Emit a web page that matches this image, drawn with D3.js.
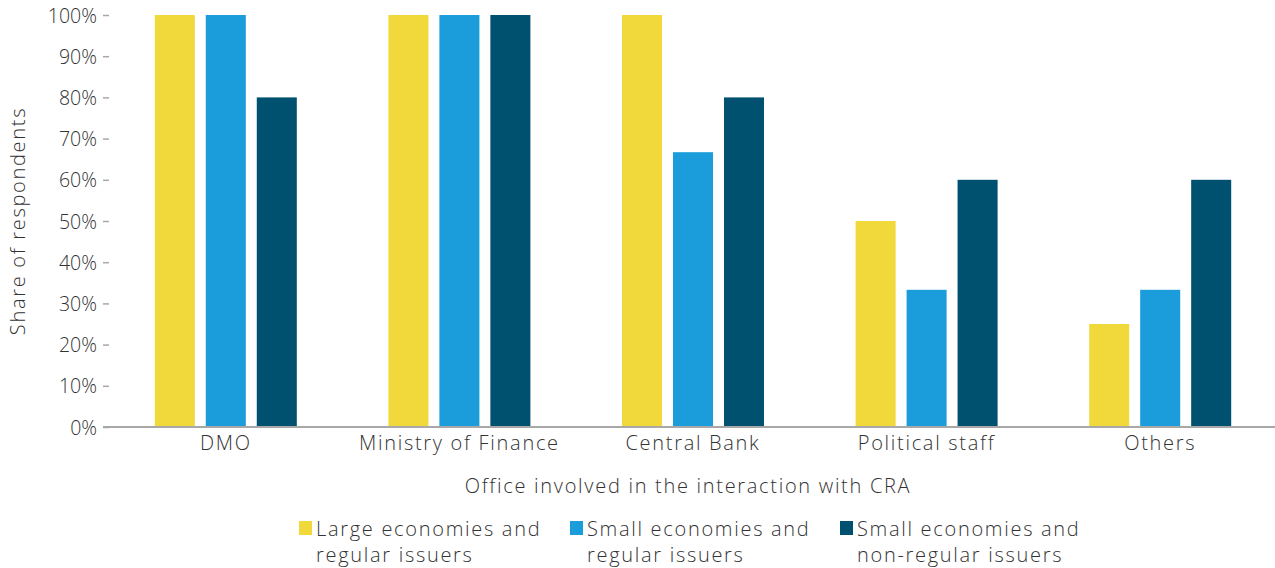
<!DOCTYPE html>
<html>
<head>
<meta charset="utf-8">
<script src="https://cdn.jsdelivr.net/npm/d3@7"></script>
<style>
  body { margin: 0; background: #fff; }
  svg text { font-family: "Open Sans", "Lato", sans-serif; font-weight: 300; fill: #333; }
  .axis path, .axis line { stroke: #a8a8a8; }
  .lbl { font-size: 20px; letter-spacing: 1.7px; }
</style>
</head>
<body>
<div id="chart"></div>
<script>
// Data
var categories = ["DMO", "Ministry of Finance", "Central Bank", "Political staff", "Others"];
var seriesNames = ["Large economies and regular issuers",
                   "Small economies and regular issuers",
                   "Small economies and non-regular issuers"];
var largeRegular = [1.00, 1.00, 1.00, 0.50, 0.25];
var smallRegular = [1.00, 1.00, 0.667, 0.333, 0.333];
var smallNonRegular = [0.80, 1.00, 0.80, 0.60, 0.60];
var legendLines = [["Large economies and", "regular issuers"],
                   ["Small economies and", "regular issuers"],
                   ["Small economies and", "non-regular issuers"]];
var colors = ["#F2D93B", "#1A9DDA", "#00506F"];

var series = [largeRegular, smallRegular, smallNonRegular];

var W = 1275, H = 568;
var margin = {top: 15, right: 0, bottom: 141, left: 109};

var svg = d3.select("#chart").append("svg")
    .attr("width", W)
    .attr("height", H);

// Scales
var x0 = d3.scaleBand()
    .domain(categories)
    .range([margin.left, W + 2])
    .paddingInner(0);

var groupWidth = 142;
var x1 = d3.scaleBand()
    .domain(d3.range(series.length))
    .range([0, groupWidth])
    .paddingInner(0.215);

var y = d3.scaleLinear()
    .domain([0, 1])
    .range([H - margin.bottom, margin.top]);

// Bars
var groups = svg.append("g").selectAll("g")
  .data(categories)
  .enter().append("g")
    .attr("transform", function(d) {
      return "translate(" + (x0(d) + (x0.bandwidth() - groupWidth) / 2) + ",0)";
    });

groups.selectAll("rect")
  .data(function(d, i) { return series.map(function(s, j) { return {k: j, v: s[i]}; }); })
  .enter().append("rect")
    .attr("x", function(d) { return x1(d.k); })
    .attr("width", x1.bandwidth())
    .attr("y", function(d) { return y(d.v); })
    .attr("height", function(d) { return y(0) - y(d.v); })
    .attr("fill", function(d) { return colors[d.k]; });

// Y axis (ticks only)
var yAxis = svg.append("g")
    .attr("class", "axis")
    .attr("transform", "translate(" + margin.left + ",0)")
    .call(d3.axisLeft(y).ticks(10).tickFormat(d3.format(".0%")).tickSize(6).tickPadding(6));
yAxis.select(".domain").remove();
yAxis.selectAll("text").style("font-size", "19.5px").attr("dy", "0.36em");
yAxis.selectAll("line").attr("stroke-width", 1.5);

// X axis baseline
svg.append("line")
    .attr("x1", margin.left - 6)
    .attr("x2", W)
    .attr("y1", y(0))
    .attr("y2", y(0))
    .attr("stroke", "#a8a8a8")
    .attr("stroke-width", 2);

// Category labels
svg.append("g").selectAll("text")
  .data(categories)
  .enter().append("text")
    .attr("class", "lbl")
    .attr("x", function(d) { return x0(d) + x0.bandwidth() / 2; })
    .attr("y", y(0) + 23)
    .attr("text-anchor", "middle")
    .text(function(d) { return d; });

// Axis titles
svg.append("text")
    .attr("class", "lbl")
    .attr("x", 688)
    .attr("y", 493)
    .attr("text-anchor", "middle")
    .text("Office involved in the interaction with CRA");

svg.append("text")
    .attr("class", "lbl")
    .attr("text-anchor", "middle")
    .attr("transform", "translate(25," + ((y(0) + y(1)) / 2) + ")rotate(-90)")
    .text("Share of respondents");

// Legend
var legendX = [299, 570, 840];
var legend = svg.append("g").selectAll("g")
  .data(seriesNames)
  .enter().append("g")
    .attr("transform", function(d, i) { return "translate(" + legendX[i] + ",521)"; });

legend.append("rect")
    .attr("width", 13)
    .attr("height", 14)
    .attr("fill", function(d, i) { return colors[i]; });

legend.each(function(d, i) {
  var t = d3.select(this).append("text")
      .attr("class", "lbl")
      .attr("x", 17)
      .attr("y", 15);
  legendLines[i].forEach(function(line, k) {
    t.append("tspan")
      .attr("x", 17)
      .attr("dy", k === 0 ? 0 : 26)
      .text(line);
  });
});
</script>
</body>
</html>
